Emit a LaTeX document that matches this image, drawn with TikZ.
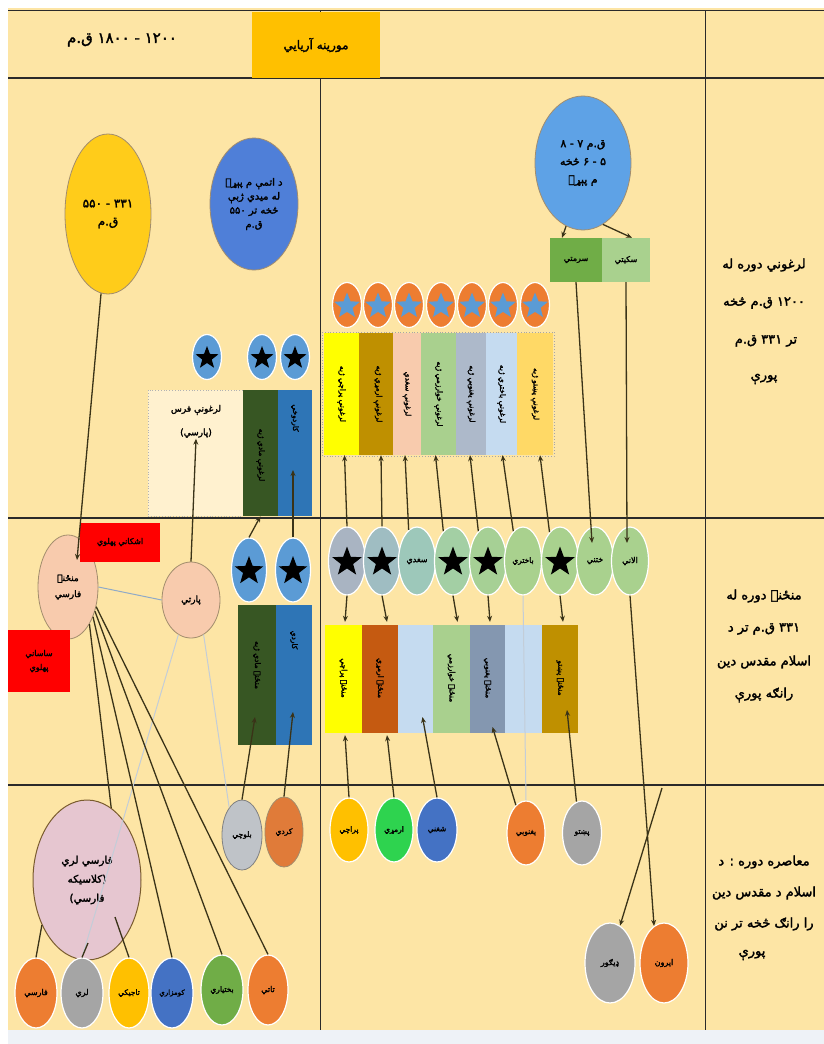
\documentclass[tikz,border=0pt]{standalone}
\usepackage{fontspec}
\newfontfamily\arabicfont[Script=Arabic,BoldFont={DejaVu Sans},BoldFeatures={FakeBold=2.2}]{DejaVu Sans}
\TeXXeTstate=1
\usetikzlibrary{shapes.geometric,arrows.meta,calc}
\newcommand{\ptx}[1]{{\arabicfont\bfseries\beginR #1\endR}}
\definecolor{bgC}{HTML}{FDE5A5}
\definecolor{footC}{HTML}{EEF2F7}
\definecolor{gridC}{HTML}{2A2A2A}
\definecolor{hdrC}{HTML}{FFC000}
\definecolor{connC}{HTML}{3A3318}
\definecolor{lightC}{HTML}{C3CDD8}
\definecolor{ybC}{HTML}{FFCC1A}
\definecolor{bbC}{HTML}{4F7FD8}
\definecolor{tbC}{HTML}{5EA2E6}
\definecolor{sarC}{HTML}{70AD47}
\definecolor{skiC}{HTML}{A9D18E}
\definecolor{orC}{HTML}{ED7D31}
\definecolor{stbC}{HTML}{5B9BD5}
\definecolor{yelC}{HTML}{FFFF00}
\definecolor{goldC}{HTML}{BF9000}
\definecolor{peachC}{HTML}{F8CBAD}
\definecolor{lgC}{HTML}{A9D08E}
\definecolor{gbC}{HTML}{ADB9CA}
\definecolor{lbC}{HTML}{C5DBF0}
\definecolor{loC}{HTML}{FFD966}
\definecolor{dgC}{HTML}{375623}
\definecolor{mbC}{HTML}{2E75B6}
\definecolor{brC}{HTML}{C55A11}
\definecolor{gbbC}{HTML}{8497B0}
\definecolor{redC}{HTML}{FF0000}
\definecolor{flC}{HTML}{E6C6D0}
\definecolor{greyC}{HTML}{A5A5A5}
\definecolor{grnC}{HTML}{2ED34F}
\definecolor{blC}{HTML}{4472C4}
\definecolor{opC}{HTML}{FFF1CF}
\definecolor{brdC}{HTML}{7A5C2E}
\definecolor{mcA}{HTML}{A9B4C2}
\definecolor{mcB}{HTML}{9FBDC2}
\definecolor{mcC}{HTML}{9DC8BA}
\definecolor{mcD}{HTML}{A3CFA4}
\definecolor{mcE}{HTML}{A6D095}
\definecolor{mcF}{HTML}{A9D18E}
\definecolor{silC}{HTML}{BFC3C8}
\definecolor{kurC}{HTML}{E07B39}
\definecolor{blineC}{HTML}{8FAAC8}
\begin{document}
\begin{tikzpicture}[x=1pt,y=-1pt,
  gridline/.style={draw=gridC,line width=1pt},
  conn/.style={draw=connC,line width=1.3pt,-{Stealth[length=6pt,width=5pt]}},
  plainc/.style={draw=connC,line width=1.3pt},
  lightc/.style={draw=lightC,line width=1pt},
  oval/.style={ellipse,draw=white,line width=1.2pt,inner sep=0pt,align=center},
  ball/.style={ellipse,draw=brdC!70,line width=0.8pt,inner sep=0pt,align=center},
  strip/.style={rectangle,inner sep=0pt,draw=none},
  vtxt/.style={rotate=-90,inner sep=0pt,font=\fontsize{7.5}{8}\selectfont},
  sml/.style={inner sep=1pt,font=\fontsize{9}{10}\selectfont,align=center},
  side/.style={inner sep=0pt,font=\fontsize{13}{14}\selectfont},
  bstar/.style={star,star points=5,star point ratio=2.4,fill=black,inner sep=0pt,minimum size=25pt},
  ostar/.style={star,star points=5,star point ratio=2.3,fill=stbC,inner sep=0pt,minimum size=27pt}
]
\useasboundingbox (0,0) rectangle (824,1044);
\fill[white] (0,0) rectangle (824,1044);
\fill[bgC] (8,8) rectangle (824,1030);
\fill[footC] (8,1030) rectangle (824,1044);
% grid
\draw[gridline] (8,10) -- (824,10);
\draw[gridC,line width=2.4pt] (8,78) -- (824,78);
\draw[gridC,line width=1.4pt] (8,518) -- (824,518);
\draw[gridC,line width=1.4pt] (8,785) -- (824,785);
\draw[gridline] (320,10) -- (320,1030);
\draw[gridline] (705,10) -- (705,1030);
% header
\node[side,font=\fontsize{15}{16}\selectfont] (hdate) at (122,40) {\ptx{۱۲۰۰ - ۱۸۰۰ ق.م}};
\node[fill=hdrC,minimum width=128pt,minimum height=66pt,inner sep=0pt,font=\fontsize{12}{13}\selectfont] (hbox) at (316,45) {\ptx{مورینه آریایي}};
% side texts
\node[side] (o1) at (764,265) {\ptx{لرغوني دوره له}};
\node[side] (o2) at (764,303) {\ptx{۱۲۰۰ ق.م څخه}};
\node[side] (o3) at (766,341) {\ptx{تر ۳۳۱ ق.م}};
\node[side] (o4) at (764,379) {\ptx{پورې}};
\node[side] (m1) at (764,596) {\ptx{منځنۍ دوره له}};
\node[side] (m2) at (764,629) {\ptx{۳۳۱ ق.م تر د}};
\node[side] (m3) at (764,662) {\ptx{اسلام مقدس دین}};
\node[side] (m4) at (764,695) {\ptx{رانګه پورې}};
\node[side] (c1) at (764,862) {\ptx{معاصره دوره : د}};
\node[side] (c2) at (764,893) {\ptx{اسلام د مقدس دین}};
\node[side] (c3) at (764,924) {\ptx{را رانګ څخه تر نن}};
\node[side] (c4) at (752,955) {\ptx{پورې}};
% ===== old period =====
\node[ball,fill=ybC,minimum width=86pt,minimum height=160pt,font=\fontsize{12}{18}\selectfont] (yb) at (108,214) {\ptx{۳۳۱ - ۵۵۰}\\\ptx{ق.م}};
\node[ball,fill=bbC,minimum width=88pt,minimum height=132pt,font=\fontsize{10}{14}\selectfont] (bb) at (254,204) {\ptx{د اتمې م پېړۍ}\\\ptx{له میدي ژبې}\\\ptx{څخه تر ۵۵۰}\\\ptx{ق.م}};
\node[ball,fill=tbC,minimum width=96pt,minimum height=134pt,font=\fontsize{11}{18}\selectfont] (tb) at (583,163) {\ptx{ق.م ۷ - ۸}\\\ptx{۵ - ۶ څخه}\\\ptx{م پېړۍ}};
\node[strip,fill=sarC,minimum width=52pt,minimum height=44pt,font=\fontsize{8}{9}\selectfont] (sar) at (576,260) {\ptx{سرمتي}};
\node[strip,fill=skiC,minimum width=48pt,minimum height=44pt,font=\fontsize{8}{9}\selectfont] (ski) at (626,260) {\ptx{سکیتي}};
\draw[conn] (tb.255) -- ($(sar.north)+(-14,0)$);
\draw[conn] (tb.288) -- ($(ski.north)+(6,0)$);
% top star row
\foreach \i/\cx in {1/347,2/378,3/409,4/441,5/472,6/503,7/535}{
  \node[oval,fill=orC,minimum width=29pt,minimum height=45pt] (tso\i) at (\cx,305) {};
  \node[ostar] (tss\i) at (\cx,306) {};
}
% top strips
\draw[gray!70,dotted,line width=0.8pt] (322,332) rectangle (554,456);
\node[strip,fill=yelC,minimum width=35pt,minimum height=122pt] (ts1) at (341.5,394) {};
\node[strip,fill=goldC,minimum width=34pt,minimum height=122pt] (ts2) at (376,394) {};
\node[strip,fill=peachC,minimum width=28pt,minimum height=122pt] (ts3) at (407,394) {};
\node[strip,fill=lgC,minimum width=35pt,minimum height=122pt] (ts4) at (438.5,394) {};
\node[strip,fill=gbC,minimum width=30pt,minimum height=122pt] (ts5) at (471,394) {};
\node[strip,fill=lbC,minimum width=31pt,minimum height=122pt] (ts6) at (501.5,394) {};
\node[strip,fill=loC,minimum width=36pt,minimum height=122pt] (ts7) at (535,394) {};
\node[vtxt] (ts1t) at (341.5,394) {\ptx{لرغونې پراچي ژبه}};
\node[vtxt] (ts2t) at (378,394) {\ptx{لرغونې ارمړي ژبه}};
\node[vtxt] (ts3t) at (407,394) {\ptx{لرغونې سغدي}};
\node[vtxt] (ts4t) at (438.5,394) {\ptx{لرغونې خوارزمي ژبه}};
\node[vtxt] (ts5t) at (471,394) {\ptx{لرغونې یغنوبي ژبه}};
\node[vtxt] (ts6t) at (501.5,394) {\ptx{لرغونې باختري ژبه}};
\node[vtxt] (ts7t) at (535,394) {\ptx{لرغونې پښتو ژبه}};
% left old stars and boxes
\foreach \i/\cx in {1/207,2/262,3/295}{
  \node[oval,fill=stbC,minimum width=29pt,minimum height=45pt] (lso\i) at (\cx,357) {};
  \node[bstar,minimum size=24pt] (lss\i) at (\cx,358) {};
}
\node[strip,fill=opC,draw=gray!60,dotted,line width=0.8pt,minimum width=95pt,minimum height=126pt] (op) at (195.5,453) {};
\node[sml] (opt1) at (196,410) {\ptx{لرغونې فرس}};
\node[sml] (opt2) at (196,433) {\ptx{(پارسي)}};
\node[strip,fill=dgC,minimum width=35pt,minimum height=126pt] (og) at (260.5,453) {};
\node[strip,fill=mbC,minimum width=34pt,minimum height=126pt] (ob) at (295,453) {};
\node[vtxt] (ogt) at (260.5,455) {\ptx{لرغونې مادي ژبه}};
\node[vtxt] (obt) at (295,418) {\ptx{کاردوخي}};
% ===== middle period =====
\node[ball,fill=peachC,minimum width=60pt,minimum height=104pt,font=\fontsize{9}{16}\selectfont] (mf) at (68,587) {\ptx{منځنۍ}\\\ptx{فارسي}};
\node[ball,fill=peachC,minimum width=58pt,minimum height=76pt,font=\fontsize{9}{10}\selectfont] (pa) at (191,600) {\ptx{پارتي}};
\draw[draw=blineC,line width=1pt] (mf.east) -- (pa.west);
\node[strip,fill=redC,minimum width=80pt,minimum height=39pt,font=\fontsize{8}{9}\selectfont] (red1) at (120,542) {\ptx{اشکاني پهلوي}};
\node[strip,fill=redC,minimum width=62pt,minimum height=62pt,font=\fontsize{8}{14}\selectfont,align=center] (red2) at (39,661) {\ptx{ساساني}\\\ptx{پهلوي}};
\node[oval,fill=stbC,minimum width=35pt,minimum height=64pt] (lst1) at (249,570) {};
\node[bstar,minimum size=30pt] (lsts1) at (249,571) {};
\node[oval,fill=stbC,minimum width=35pt,minimum height=64pt] (lst2) at (293,570) {};
\node[bstar,minimum size=30pt] (lsts2) at (293,571) {};
\node[strip,fill=dgC,minimum width=38pt,minimum height=140pt] (lmg) at (257,675) {};
\node[strip,fill=mbC,minimum width=36pt,minimum height=140pt] (lmb) at (294,675) {};
\node[vtxt] (lmgt) at (257,665) {\ptx{منځنۍ مادي ژبه}};
\node[vtxt] (lmbt) at (294,640) {\ptx{کاردي}};
% middle circles
\node[oval,fill=mcA,minimum width=37pt,minimum height=68pt] (mc1) at (347,561) {};
\node[oval,fill=mcB,minimum width=37pt,minimum height=68pt] (mc2) at (382,561) {};
\node[oval,fill=mcC,minimum width=37pt,minimum height=68pt,font=\fontsize{8}{9}\selectfont] (mc3) at (417,561) {\ptx{سغدي}};
\node[oval,fill=mcD,minimum width=37pt,minimum height=68pt] (mc4) at (453,561) {};
\node[oval,fill=mcE,minimum width=37pt,minimum height=68pt] (mc5) at (488,561) {};
\node[oval,fill=mcF,minimum width=37pt,minimum height=68pt,font=\fontsize{7.5}{9}\selectfont] (mc6) at (523,561) {\ptx{باختري}};
\node[oval,fill=mcF,minimum width=37pt,minimum height=68pt] (mc7) at (560,561) {};
\node[oval,fill=mcF,minimum width=37pt,minimum height=68pt,font=\fontsize{8}{9}\selectfont] (mc8) at (595,561) {\ptx{ختني}};
\node[oval,fill=mcF,minimum width=37pt,minimum height=68pt,font=\fontsize{8}{9}\selectfont] (mc9) at (630,561) {\ptx{الاني}};
\foreach \i in {1,2,4,5,7}{ \node[bstar,minimum size=31pt] (mcs\i) at ($(mc\i)+(0,1)$) {}; }
% middle strips
\node[strip,fill=yelC,minimum width=37pt,minimum height=108pt] (ms1) at (343.5,679) {};
\node[strip,fill=brC,minimum width=36pt,minimum height=108pt] (ms2) at (380,679) {};
\node[strip,fill=lbC,minimum width=35pt,minimum height=108pt] (ms3) at (415.5,679) {};
\node[strip,fill=lgC,minimum width=37pt,minimum height=108pt] (ms4) at (451.5,679) {};
\node[strip,fill=gbbC,minimum width=35pt,minimum height=108pt] (ms5) at (487.5,679) {};
\node[strip,fill=lbC,minimum width=37pt,minimum height=108pt] (ms6) at (523.5,679) {};
\node[strip,fill=goldC,minimum width=36pt,minimum height=108pt] (ms7) at (560,679) {};
\node[vtxt] (ms1t) at (343.5,678) {\ptx{منځنۍ پراچي}};
\node[vtxt] (ms2t) at (380,678) {\ptx{منځنۍ ارمړي}};
\node[vtxt] (ms4t) at (451.5,678) {\ptx{منځنۍ خوارزمي}};
\node[vtxt] (ms5t) at (487.5,678) {\ptx{منځنۍ یغنوبي}};
\node[vtxt] (ms7t) at (560,678) {\ptx{منځنۍ پښتو}};
% ===== contemporary =====
\node[oval,fill=hdrC,minimum width=38pt,minimum height=64pt,font=\fontsize{7.5}{9}\selectfont] (bc1) at (349,830) {\ptx{پراچي}};
\node[oval,fill=grnC,minimum width=38pt,minimum height=64pt,font=\fontsize{7.5}{9}\selectfont] (bc2) at (394,830) {\ptx{ارمړي}};
\node[oval,fill=blC,minimum width=40pt,minimum height=64pt,font=\fontsize{7.5}{9}\selectfont] (bc3) at (437,830) {\ptx{شغني}};
\node[oval,fill=orC,minimum width=38pt,minimum height=64pt,font=\fontsize{7.5}{9}\selectfont] (bc4) at (526,833) {\ptx{یغنوبي}};
\node[oval,fill=greyC,minimum width=39pt,minimum height=64pt,font=\fontsize{7.5}{9}\selectfont] (bc5) at (582,833) {\ptx{پښتو}};
\node[oval,fill=greyC,minimum width=50pt,minimum height=80pt,font=\fontsize{8}{9}\selectfont] (dig) at (610,963) {\ptx{ډیګور}};
\node[oval,fill=orC,minimum width=48pt,minimum height=80pt,font=\fontsize{8}{9}\selectfont] (iro) at (664,963) {\ptx{ایرون}};
\node[ball,fill=silC,draw=gray,minimum width=40pt,minimum height=70pt,font=\fontsize{7.5}{9}\selectfont] (bal) at (242,835) {\ptx{بلوچي}};
\node[ball,fill=kurC,minimum width=38pt,minimum height=70pt,font=\fontsize{7.5}{9}\selectfont] (kur) at (284,832) {\ptx{کردي}};
% bottom-left
\draw[plainc] (mf.300) -- ($(mf.300)!0.62!(129,958)$) coordinate (flin);
\node[ball,fill=flC,draw=brdC,line width=1pt,minimum width=108pt,minimum height=160pt,font=\fontsize{10.5}{19}\selectfont] (fl) at (87,880) {\ptx{فارسي لري}\\\ptx{(کلاسیکه}\\\ptx{فارسي)}};
\node[oval,fill=orC,minimum width=42pt,minimum height=70pt,font=\fontsize{8}{9}\selectfont] (fa) at (36,993) {\ptx{فارسي}};
\node[oval,fill=greyC,minimum width=42pt,minimum height=70pt,font=\fontsize{8}{9}\selectfont] (lo) at (82,993) {\ptx{لري}};
\node[oval,fill=hdrC,minimum width=40pt,minimum height=70pt,font=\fontsize{7.5}{9}\selectfont] (ta) at (129,993) {\ptx{تاجیکي}};
\node[oval,fill=blC,minimum width=42pt,minimum height=70pt,font=\fontsize{7}{9}\selectfont] (ku) at (172,993) {\ptx{کومزاري}};
\node[oval,fill=sarC,minimum width=42pt,minimum height=70pt,font=\fontsize{7.5}{9}\selectfont] (ba) at (222,990) {\ptx{بختیاري}};
\node[oval,fill=orC,minimum width=40pt,minimum height=70pt,font=\fontsize{8}{9}\selectfont] (tt) at (268,990) {\ptx{تاتي}};
% ===== connectors =====
\draw[conn] (sar.south) -- ($(mc8.center)+(-3,-18)$);
\draw[conn] (ski.south) -- ($(mc9.center)+(-3,-18)$);
\draw[conn] (mc1.north) -- ($(ts1.south)+(3,0)$);
\draw[conn] (mc2.north) -- ($(ts2.south)+(5,0)$);
\draw[conn] (mc3.105) -- ($(ts3.south)+(-2,0)$);
\draw[conn] (mc4.108) -- ($(ts4.south)+(-3,0)$);
\draw[conn] (mc5.108) -- ($(ts5.south)+(-1,0)$);
\draw[conn] (mc6.108) -- ($(ts6.south)+(1,0)$);
\draw[conn] (mc7.110) -- ($(ts7.south)+(5,0)$);
\draw[conn] (mc1.south) -- ($(ms1.north)+(1.5,-3)$);
\draw[conn] (mc2.south) -- ($(ms2.north)+(7,-3)$);
\draw[conn] (mc4.south) -- ($(ms4.north)+(6,-3)$);
\draw[conn] (mc5.south) -- ($(ms5.north)+(2.5,-3)$);
\draw[conn] (mc7.south) -- ($(ms7.north)+(3,-3)$);
\draw[lightc] (mc6.south) -- (bc4.north);
\draw[conn] (bc1.north) -- ($(ms1.south)+(1.5,2)$);
\draw[conn] (bc2.north) -- ($(ms2.south)+(7,2)$);
\draw[conn] (bc3.north) -- ($(ms3.center)+(7,38)$);
\draw[conn] (bc4.110) -- ($(ms5.center)+(5,48)$);
\draw[conn] (bc5.100) -- ($(ms7.center)+(7,31)$);
\draw[conn] (mc9.south) -- (iro.105);
\coordinate (digsrc) at (662,788);
\draw[conn] (digsrc) -- (dig.75);
\draw[conn] (yb.265) -- ($(mf.center)+(9,-27)$);
\draw[conn] (pa.north) -- (opt2.south);
\draw[conn] (lst1.north) -- (og.south);
\draw[conn] (lst2.north) -- ($(ob.center)+(-2,17)$);
\draw[conn] (bal.north) -- ($(lmg.center)+(-2,42)$);
\draw[conn] (kur.north) -- ($(lmb.center)+(-1,37)$);
\draw[lightc] (pa.290) -- (bal.115);
\draw[lightc] (pa.250) -- (lo.north);
\draw[plainc] (mf.310) -- (ku.north);
\draw[plainc] (mf.318) -- (ba.north);
\draw[plainc] (mf.325) -- (tt.north);
\draw[plainc] (fl.225) -- (fa.north);
\draw[plainc] ($(fl.center)+(1,63)$) -- (lo.north);
\draw[plainc] ($(fl.center)+(28,37)$) -- (ta.north);
\end{tikzpicture}
\end{document}
